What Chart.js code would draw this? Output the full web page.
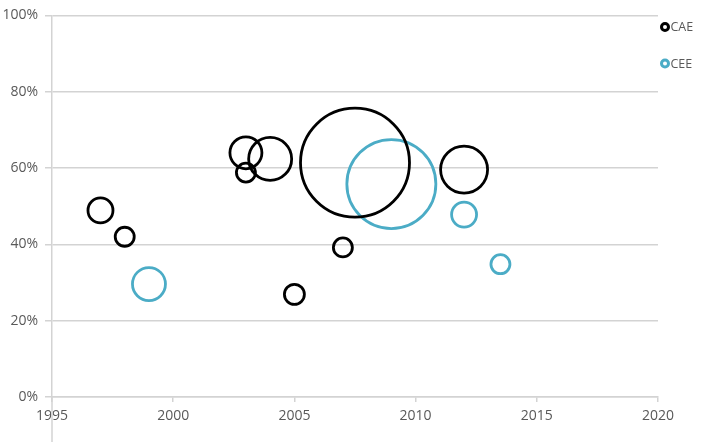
<!DOCTYPE html>
<html>
<head>
<meta charset="utf-8">
<script src="https://cdn.jsdelivr.net/npm/chart.js@4"></script>
<style>
html,body{margin:0;padding:0;background:#fff;}
#wrap{width:708px;height:442px;}
</style>
</head>
<body>
<div id="wrap"><canvas id="c" width="708" height="442"></canvas></div>
<script>
const seriesNames = ["CAE", "CEE"];
const caeYears  = [1997, 1998, 2003, 2003, 2004, 2005, 2007, 2007.5, 2012];
const caeValues = [48.9, 42.0, 64.0, 58.8, 62.4, 26.9, 39.2, 61.4, 59.6];
const caeSizes  = [12.5, 9.5, 16, 9.5, 21.5, 10, 9.5, 54.5, 23.5];
const ceeYears  = [1999, 2009, 2012, 2013.5];
const ceeValues = [29.6, 55.8, 47.8, 34.8];
const ceeSizes  = [16.5, 44.5, 12.5, 9.5];
const xTicks = [1995, 2000, 2005, 2010, 2015, 2020];
const yTicks = [0, 20, 40, 60, 80, 100];

const colors = ["#000000", "#4BACC6"];
const gridColor = "#d3d3d3";
const textColor = "#595959";
const fontFamily = "'Open Sans', 'Liberation Sans', Arial, sans-serif";
const font = {family: fontFamily, size: 14};

function pts(xs, ys, rs){ return xs.map((x,i)=>({x:x, y:ys[i], r:rs[i]})); }

const legendPlugin = {
  id: 'customLegend',
  afterDraw(chart){
    const ctx = chart.ctx;
    ctx.save();
    chart.data.datasets.forEach((ds, i) => {
      const cy = 27 + i * 36.5;
      const cx = 665;
      ctx.beginPath();
      ctx.arc(cx, cy, 3.5, 0, Math.PI*2);
      ctx.lineWidth = 3;
      ctx.strokeStyle = ds.borderColor;
      ctx.stroke();
      ctx.fillStyle = textColor;
      ctx.font = "12.5px " + fontFamily;
      ctx.textBaseline = 'middle';
      ctx.textAlign = 'left';
      ctx.fillText(ds.label, cx + 5.5, cy + 0.5);
    });
    ctx.restore();
  }
};

const axisExtend = {
  id: 'axisExtend',
  afterDraw(chart){
    const ctx = chart.ctx;
    const x = chart.scales.x.getPixelForValue(xTicks[0]);
    ctx.save();
    ctx.beginPath();
    ctx.moveTo(x, chart.chartArea.bottom);
    ctx.lineTo(x, chart.height);
    ctx.lineWidth = 1.5;
    ctx.strokeStyle = gridColor;
    ctx.stroke();
    ctx.restore();
  }
};

new Chart(document.getElementById('c'), {
  type: 'bubble',
  data: {
    datasets: [
      {label: seriesNames[0], data: pts(caeYears, caeValues, caeSizes),
       borderColor: colors[0], backgroundColor: 'rgba(0,0,0,0)', borderWidth: 2.8,
       hoverBorderWidth: 2.8, hoverRadius: 0, clip: false},
      {label: seriesNames[1], data: pts(ceeYears, ceeValues, ceeSizes),
       borderColor: colors[1], backgroundColor: 'rgba(0,0,0,0)', borderWidth: 2.8,
       hoverBorderWidth: 2.8, hoverRadius: 0, clip: false}
    ]
  },
  options: {
    responsive: false,
    animation: false,
    events: [],
    layout: {autoPadding: false, padding: {left: 0, top: 11, right: 50, bottom: 0}},
    plugins: {legend: {display: false}, tooltip: {enabled: false}},
    scales: {
      x: {
        type: 'linear', min: xTicks[0], max: xTicks[xTicks.length-1],
        afterBuildTicks: s => { s.ticks = xTicks.map(v => ({value: v})); },
        afterFit: s => { s.height = 45; },
        grid: {drawOnChartArea: false, drawTicks: true, tickLength: 5, color: gridColor, lineWidth: 1.5},
        border: {color: gridColor, width: 1.5},
        ticks: {color: textColor, font: font, padding: 6, maxRotation: 0, callback: v => String(v)}
      },
      y: {
        type: 'linear', min: 0, max: 100,
        afterBuildTicks: s => { s.ticks = yTicks.map(v => ({value: v})); },
        afterFit: s => { s.width = 52; },
        grid: {color: gridColor, lineWidth: 1.5, tickLength: 7},
        border: {color: gridColor, width: 1.5},
        ticks: {color: textColor, font: font, padding: 7, callback: v => v + '%'}
      }
    }
  },
  plugins: [legendPlugin, axisExtend]
});
</script>
</body>
</html>
